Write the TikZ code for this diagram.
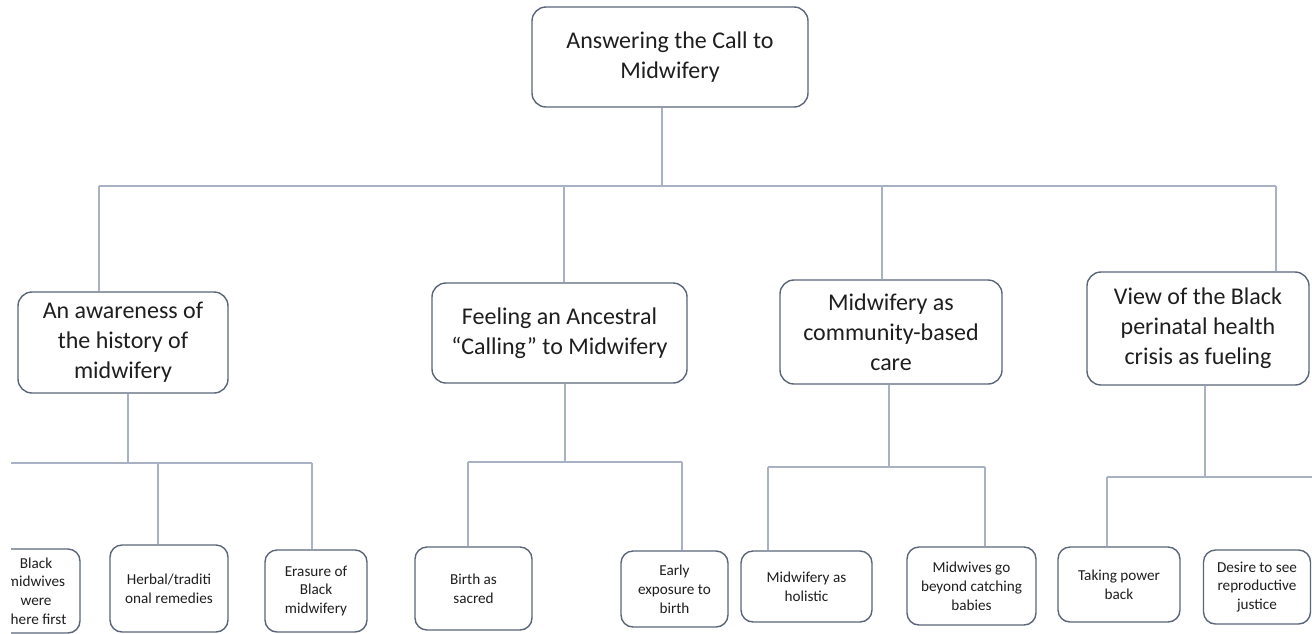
\documentclass[tikz,border=0pt]{standalone}
\usepackage{fontspec}
\setmainfont{Carlito}
\usepackage{tikz}

\definecolor{boxline}{HTML}{5B6579}
\definecolor{linkline}{HTML}{A9B2C4}
\definecolor{txt}{HTML}{1E1E1E}

\tikzset{
  card/.style={draw=boxline, line width=0.7pt, rounded corners=7pt, align=center, text=txt, inner sep=0pt},
  bigcard/.style={card, font=\fontsize{12}{15}\selectfont},
  smallcard/.style={card, rounded corners=6pt, font=\fontsize{7.6}{9.4}\selectfont},
  link/.style={draw=linkline, line width=0.6pt},
}

\begin{document}
\begin{tikzpicture}[x=0.5pt, y=-0.5pt]
        \useasboundingbox (0,0) rectangle (1312,633);
        \clip (11,0) rectangle (1312,633);
        % top
        \node[bigcard, minimum width=138pt, minimum height=50pt] (root) at (670,57) {Answering the Call to\\Midwifery};
        % themes
        \node[bigcard, minimum width=105pt, minimum height=50.5pt] (aware) at (123,342.5) {An awareness of\\the history of\\midwifery};
        \node[bigcard, minimum width=127.5pt, minimum height=50pt] (feel) at (559.5,333) {Feeling an Ancestral\\``Calling'' to Midwifery};
        \node[bigcard, minimum width=111pt, minimum height=52pt] (comm) at (891,332) {Midwifery as\\community-based\\care};
        \node[bigcard, minimum width=111pt, minimum height=56.5pt] (view) at (1198,328.5) {View of the Black\\perinatal health\\crisis as fueling};
        % subthemes
        \node[smallcard, minimum width=44pt, minimum height=42pt] (first) at (36,591) {Black\\midwives\\were\\there first};
        \node[smallcard, minimum width=59pt, minimum height=43.5pt] (herbal) at (169,588.5) {Herbal/traditi\\onal remedies};
        \node[smallcard, minimum width=51pt, minimum height=41pt] (erase) at (316,591) {Erasure of\\Black\\midwifery};
        \node[smallcard, minimum width=58.5pt, minimum height=41.5pt] (sacred) at (473.5,588.5) {Birth as\\sacred};
        \node[smallcard, minimum width=53.5pt, minimum height=38pt] (early) at (674.5,589) {Early\\exposure to\\birth};
        \node[smallcard, minimum width=65.5pt, minimum height=35.5pt] (holist) at (806.5,586.5) {Midwifery as\\holistic};
        \node[smallcard, minimum width=64.5pt, minimum height=39pt] (beyond) at (971.5,586) {Midwives go\\beyond catching\\babies};
        \node[smallcard, minimum width=61pt, minimum height=37.5pt] (power) at (1119,584.5) {Taking power\\back};
        \node[smallcard, minimum width=53.5pt, minimum height=37pt] (justice) at (1257,587) {Desire to see\\reproductive\\justice};
        % bus points
        \coordinate (b0) at (662,186);
        \coordinate (b1) at (99,186);
        \coordinate (b2) at (564,186);
        \coordinate (b3) at (882,186);
        \coordinate (b4) at (1276,186);
        \draw[link] (root.south -| b0) -- (b0);
        \draw[link] (b1) -- (b4);
        \draw[link] (b1) -- (b1 |- aware.north);
        \draw[link] (b2) -- (b2 |- feel.north);
        \draw[link] (b3) -- (b3 |- comm.north);
        \draw[link] (b4) -- (b4 |- view.north);
        % history
        \coordinate (a0) at (128,463);
        \coordinate (a1) at (0,463);
        \coordinate (a2) at (158,463);
        \coordinate (a3) at (312,463);
        \draw[link] (aware.south -| a0) -- (a0);
        \draw[link] (a1) -- (a3);
        \draw[link] (a2) -- (a2 |- herbal.north);
        \draw[link] (a3) -- (a3 |- erase.north);
        % calling
        \coordinate (f0) at (565,462);
        \coordinate (f1) at (468,462);
        \coordinate (f2) at (682,462);
        \draw[link] (feel.south -| f0) -- (f0);
        \draw[link] (f1) -- (f2);
        \draw[link] (f1) -- (f1 |- sacred.north);
        \draw[link] (f2) -- (f2 |- early.north);
        % community
        \coordinate (c0) at (889,467);
        \coordinate (c1) at (768,467);
        \coordinate (c2) at (985,467);
        \draw[link] (comm.south -| c0) -- (c0);
        \draw[link] (c1) -- (c2);
        \draw[link] (c1) -- (c1 |- holist.north);
        \draw[link] (c2) -- (c2 |- beyond.north);
        % crisis
        \coordinate (v0) at (1205,477);
        \coordinate (v1) at (1107,477);
        \coordinate (v2) at (1320,477);
        \draw[link] (view.south -| v0) -- (v0);
        \draw[link] (v1) -- (v2);
        \draw[link] (v1) -- (v1 |- power.north);
      \end{tikzpicture}
\end{document}
